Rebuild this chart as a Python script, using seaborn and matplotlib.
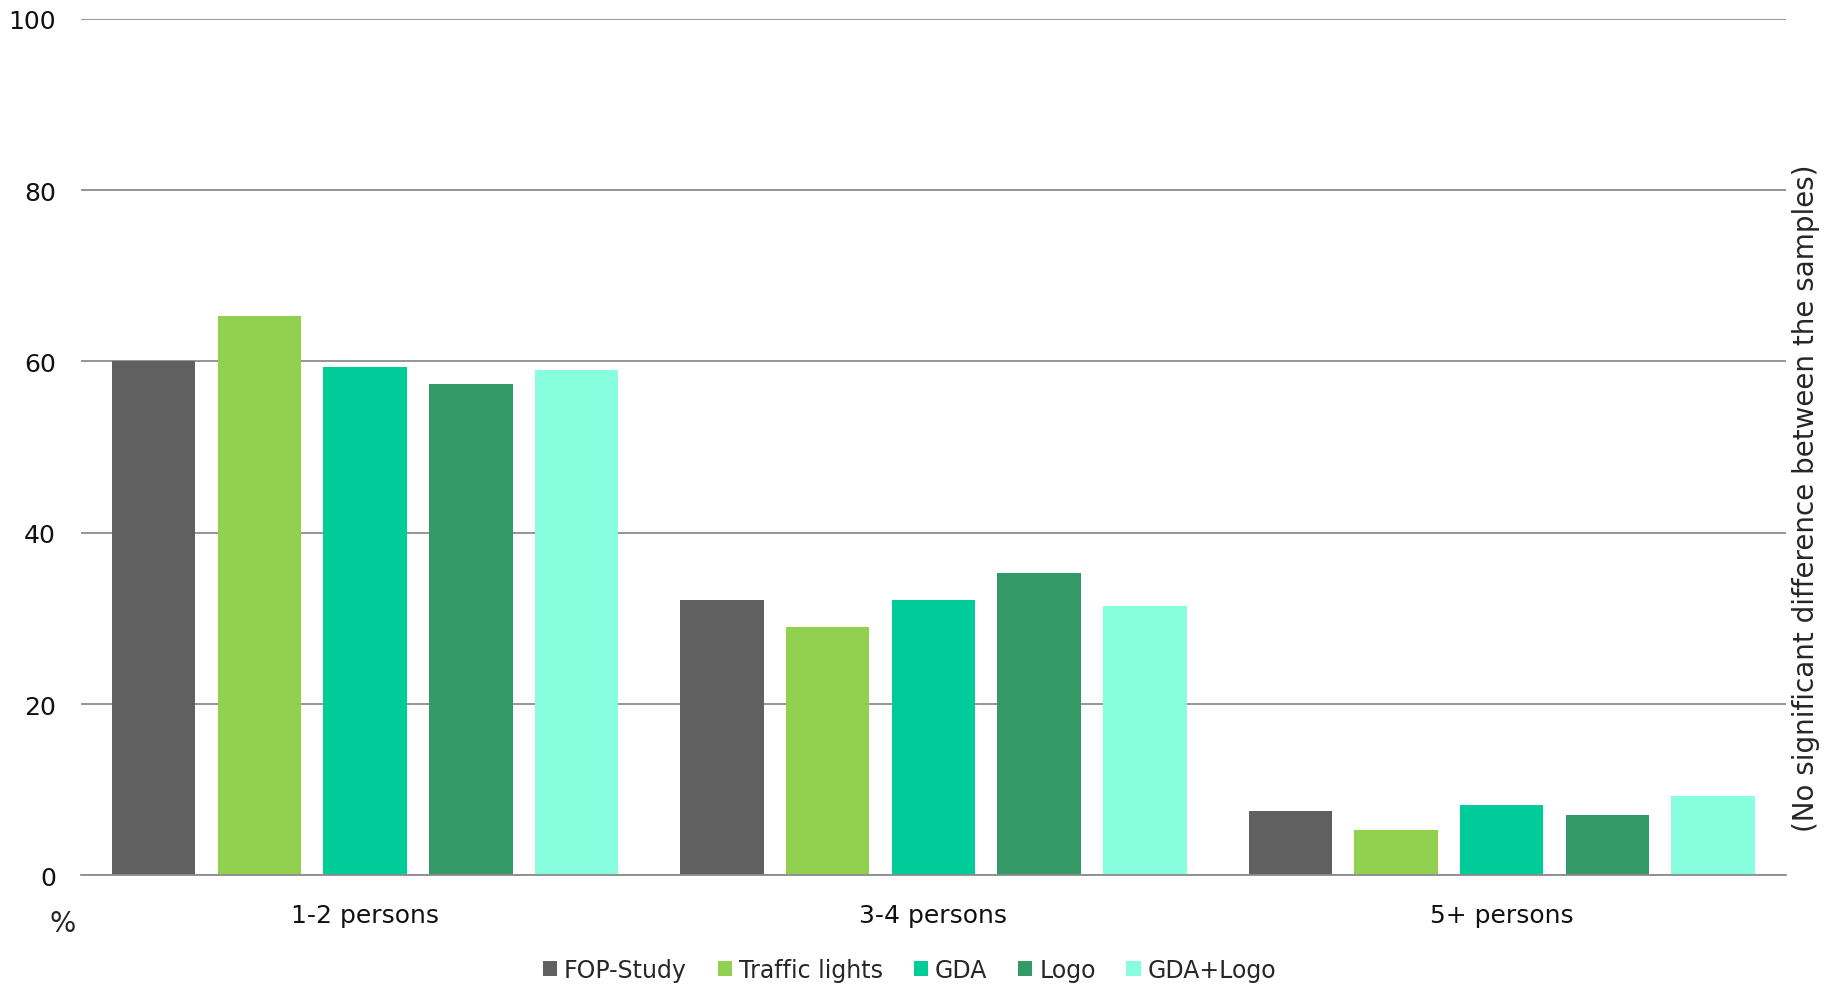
import pandas as pd
import matplotlib
matplotlib.use("Agg")
import matplotlib.pyplot as plt
import seaborn as sns

# ─── DATA ─────────────────────────────────────────────────────────────────────
groups = ["1-2 persons", "3-4 persons", "5+ persons"]
series = ["FOP-Study", "Traffic lights", "GDA", "Logo", "GDA+Logo"]
fop_study      = [60.1, 32.1, 7.5]
traffic_lights = [65.3, 29.0, 5.3]
gda            = [59.3, 32.2, 8.2]
logo           = [57.4, 35.3, 7.0]
gda_logo       = [59.0, 31.5, 9.3]
colors = ["#606060", "#92D050", "#00CC99", "#339966", "#87FFDE"]

values = [fop_study, traffic_lights, gda, logo, gda_logo]
df = pd.DataFrame(
    [(g, s, v[i]) for s, v in zip(series, values) for i, g in enumerate(groups)],
    columns=["Group", "Sample", "Percent"],
)

# ─── PLOT ─────────────────────────────────────────────────────────────────────
sns.set_style("white")
plt.rcParams["font.family"] = ["DejaVu Sans"]

fig = plt.figure(figsize=(18.41, 9.87), dpi=100)
ax = fig.add_axes([0.044, 0.112, 0.926, 0.868])

sns.barplot(data=df, x="Group", y="Percent", hue="Sample", hue_order=series,
            palette=colors, width=0.93, gap=0.21, ax=ax, saturation=1,
            legend=True, edgecolor="none")

ax.set_ylim(0, 100)
ax.set_xlim(-0.5, 2.5)
ax.set_yticks([0, 20, 40, 60, 80, 100])
ax.yaxis.grid(True, color="#8c8c8c", linewidth=1.3)
ax.set_axisbelow(True)
for side in ["top", "right", "left"]:
    ax.spines[side].set_visible(False)
ax.spines["bottom"].set_color("#8c8c8c")
ax.spines["bottom"].set_linewidth(1.3)
ax.tick_params(axis="both", length=0, labelsize=18, colors="#111111")
ax.tick_params(axis="y", pad=18)
ax.tick_params(axis="x", pad=20)
ax.set_xlabel("")
ax.set_ylabel("")

fig.text(0.034, 0.064, "%", fontsize=20, ha="center", va="center")
fig.text(0.981, 0.495, "(No significant difference between the samples)",
         rotation=90, fontsize=20, ha="center", va="center")

ax.legend(loc="center", bbox_to_anchor=(0.486, -0.11), ncol=5, frameon=False,
          fontsize=17, handlelength=0.6, handleheight=0.6, handletextpad=0.3,
          columnspacing=1.3, borderaxespad=0)

fig.savefig("out.png", dpi=100)
